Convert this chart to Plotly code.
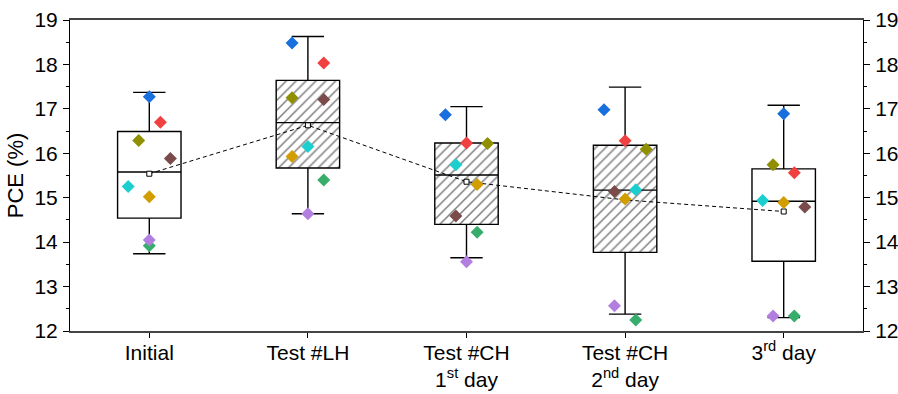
import plotly.graph_objects as go

categories = ["Initial", "Test #LH", "Test #CH<br>1<sup>st</sup> day",
              "Test #CH<br>2<sup>nd</sup> day", "3<sup>rd</sup> day"]

# box statistics per category
q1 = [14.54, 15.67, 14.40, 13.77, 13.57]
median = [15.58, 16.69, 15.51, 15.17, 14.92]
q3 = [16.49, 17.64, 16.23, 16.18, 15.65]
lower = [13.74, 14.64, 13.65, 12.38, 12.30]
upper = [17.37, 18.63, 17.05, 17.49, 17.08]
mean = [15.54, 16.63, 15.36, 14.95, 14.69]
hatched = [False, True, True, True, False]

# individual devices (one colour each) across the categories
blue = [17.27, 18.48, 16.87, 16.98, 16.89]
red = [16.70, 18.03, 16.23, 16.28, 15.56]
olive = [16.29, 17.25, 16.22, 16.09, 15.74]
brown = [15.88, 17.21, 14.59, 15.14, 14.79]
cyan = [15.25, 16.15, 15.74, 15.18, 14.94]
gold = [15.02, 15.93, 15.30, 14.97, 14.89]
green = [13.92, 15.40, 14.22, 12.25, 12.34]
purple = [14.05, 14.64, 13.56, 12.57, 12.34]

# horizontal spread of the points inside each category (category units)
spread = {
    "blue": [0, -0.1, -0.133, -0.133, 0],
    "red": [0.07, 0.1, 0, 0, 0.067],
    "olive": [-0.067, -0.1, 0.133, 0.133, -0.067],
    "brown": [0.133, 0.1, -0.067, -0.067, 0.133],
    "cyan": [-0.133, 0, -0.067, 0.067, -0.133],
    "gold": [0, -0.1, 0.067, 0, 0],
    "green": [0, 0.1, 0.067, 0.067, 0.067],
    "purple": [0, 0, 0, -0.067, -0.067],
}

series = [
    ("blue", blue, "#1A6FDF"),
    ("red", red, "#F14040"),
    ("olive", olive, "#8F8F00"),
    ("brown", brown, "#7B4B4B"),
    ("cyan", cyan, "#1CCFCF"),
    ("gold", gold, "#D19D00"),
    ("green", green, "#37AD6B"),
    ("purple", purple, "#B27FE0"),
]

FONT = "Liberation Sans, Arial, sans-serif"
pos = list(range(len(categories)))

fig = go.Figure()

# hatched fill for selected boxes
hx = [p for p, h in zip(pos, hatched) if h]
fig.add_trace(go.Bar(
    x=hx,
    base=[q1[p] for p in hx],
    y=[q3[p] - q1[p] for p in hx],
    width=0.4,
    marker=dict(color="white", line=dict(width=0),
                pattern=dict(shape="/", fgcolor="black", bgcolor="white",
                             size=7, solidity=0.22)),
    showlegend=False, hoverinfo="skip",
))

fig.add_trace(go.Box(
    x=pos, q1=q1, median=median, q3=q3,
    lowerfence=lower, upperfence=upper,
    width=0.4, whiskerwidth=0.51,
    fillcolor="rgba(0,0,0,0)",
    line=dict(color="black", width=1.4),
    boxpoints=False, showlegend=False,
))

fig.add_trace(go.Scatter(
    x=pos, y=mean, mode="lines+markers",
    line=dict(color="black", width=1, dash="4px,3px"),
    marker=dict(symbol="square", size=5, color="white",
                line=dict(color="black", width=1)),
    showlegend=False,
))

for name, vals, col in series:
    fig.add_trace(go.Scatter(
        x=[p + o for p, o in zip(pos, spread[name])], y=vals,
        mode="markers",
        marker=dict(symbol="diamond", size=10, color=col, line=dict(width=0)),
        showlegend=False,
    ))

# invisible trace for the mirrored right axis
fig.add_trace(go.Scatter(x=[0], y=[15], yaxis="y2", mode="markers",
                         marker=dict(opacity=0), showlegend=False,
                         hoverinfo="skip"))

yax = dict(range=[12, 19], dtick=1, tick0=12, ticks="outside", ticklen=6,
           tickwidth=1, tickcolor="black", showline=True, linecolor="black",
           linewidth=1, showgrid=False, zeroline=False, automargin=False,
           ticklabelstandoff=1,
           tickfont=dict(family=FONT, size=21, color="black"),
           minor=dict(dtick=0.5, ticks="outside", ticklen=3,
                      tickcolor="black", showgrid=False))

fig.update_layout(
    width=898, height=394,
    margin=dict(l=70, r=35, t=20, b=63),
    paper_bgcolor="white", plot_bgcolor="white",
    barmode="overlay", boxmode="overlay",
    font=dict(family=FONT, size=21, color="black"),
    xaxis=dict(range=[-0.5, 4.5], tickvals=pos, ticktext=categories,
               ticks="outside", ticklen=5, tickcolor="black",
               showline=True, linecolor="#444", linewidth=1.5,
               mirror=True, showgrid=False, zeroline=False, automargin=False,
               ticklabelstandoff=-3,
               tickfont=dict(family=FONT, size=21, color="black")),
    yaxis=dict(**yax, title=dict(text="PCE (%)",
                                 font=dict(family=FONT, size=22, color="black"),
                                 standoff=4)),
    yaxis2=dict(**yax, overlaying="y", side="right"),
)

fig.write_html("out.html")
